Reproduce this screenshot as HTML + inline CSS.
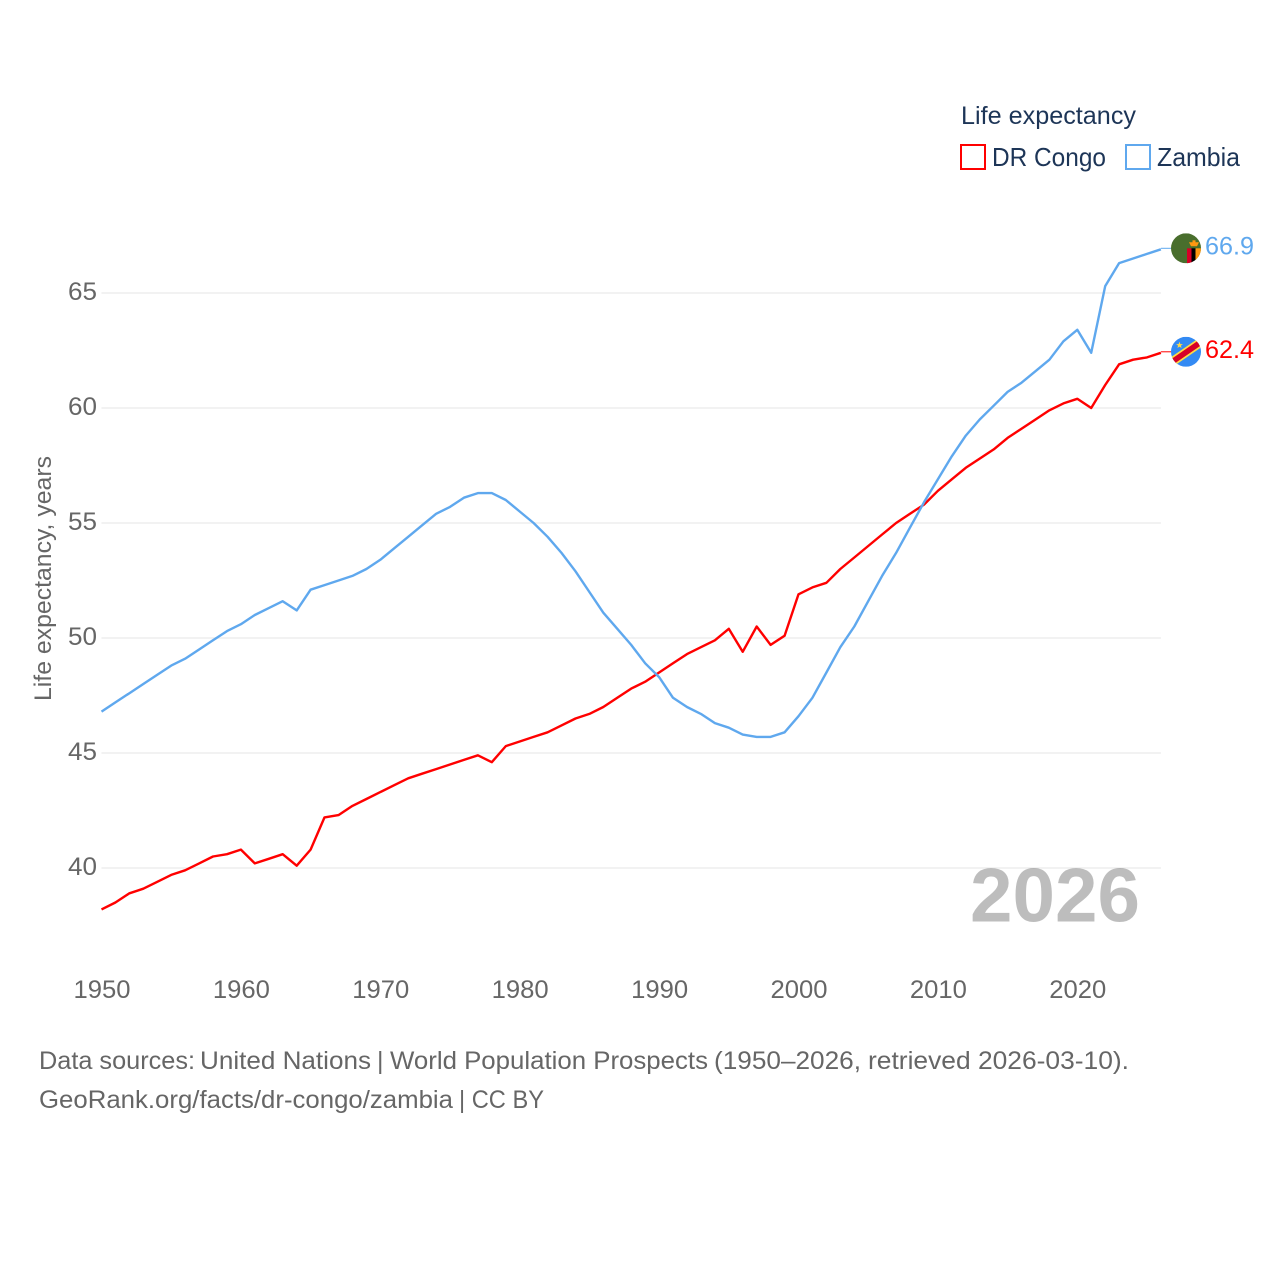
<!DOCTYPE html>
<html lang="en">
<head>
<meta charset="utf-8">
<title>Life expectancy: DR Congo and Zambia</title>
<style>
html,body{margin:0;padding:0;background:#fff;width:1280px;height:1280px;overflow:hidden}
svg{display:block}
text{font-family:"Liberation Sans",sans-serif}
</style>
</head>
<body>
<svg id="chart" width="1280" height="1280" viewBox="0 0 1280 1280" xmlns="http://www.w3.org/2000/svg">
  <defs>
    <clipPath id="clip-zm"><circle id="clip-zm-c" cx="1186" cy="248" r="15"/></clipPath>
    <clipPath id="clip-cd"><circle id="clip-cd-c" cx="1186" cy="352" r="15"/></clipPath>
  </defs>
  <rect width="1280" height="1280" fill="#fff"/>
  <g id="grid"></g>
  <g id="yticks"></g>
  <g id="xticks"></g>
  <text transform="translate(51,701) rotate(-90)" font-size="24" fill="#666" textLength="245" lengthAdjust="spacingAndGlyphs">Life expectancy, years</text>
  <text x="970" y="921.5" font-size="76" font-weight="bold" fill="#000" fill-opacity="0.26" textLength="170" lengthAdjust="spacingAndGlyphs">2026</text>
  <g id="series"></g>
  <g id="flag-zambia" clip-path="url(#clip-zm)"></g>
  <g id="flag-congo" clip-path="url(#clip-cd)"></g>
  <g>
    <text x="961" y="124" font-size="25" fill="#1d3557" textLength="175" lengthAdjust="spacingAndGlyphs">Life expectancy</text>
    <rect x="961" y="145" width="24" height="24" fill="none" stroke="#ff0000" stroke-width="2"/>
    <text x="992" y="166" font-size="26" fill="#1d3557" textLength="114" lengthAdjust="spacingAndGlyphs">DR Congo</text>
    <rect x="1126" y="145" width="24" height="24" fill="none" stroke="#5fa8ee" stroke-width="2"/>
    <text x="1157" y="166" font-size="26" fill="#1d3557" textLength="83" lengthAdjust="spacingAndGlyphs">Zambia</text>
  </g>
  <g font-size="25" fill="#666">
    <g>
      <text x="39" y="1069" textLength="156" lengthAdjust="spacingAndGlyphs">Data sources:</text>
      <text x="200" y="1069" textLength="171" lengthAdjust="spacingAndGlyphs">United Nations</text>
      <text x="377" y="1069">|</text>
      <text x="390" y="1069" textLength="318" lengthAdjust="spacingAndGlyphs">World Population Prospects</text>
      <text x="714" y="1069" textLength="147" lengthAdjust="spacingAndGlyphs">(1950–2026,</text>
      <text x="868" y="1069" textLength="261" lengthAdjust="spacingAndGlyphs">retrieved 2026-03-10).</text>
    </g>
    <text x="39" y="1108" textLength="414" lengthAdjust="spacingAndGlyphs">GeoRank.org/facts/dr-congo/zambia</text>
    <text x="459" y="1108" textLength="85" lengthAdjust="spacingAndGlyphs">| CC BY</text>
  </g>
</svg>
<script>
const startYear = 1950;
const congoValues = [38.2,38.5,38.9,39.1,39.4,39.7,39.9,40.2,40.5,40.6,40.8,40.2,40.4,40.6,40.1,40.8,42.2,42.3,42.7,43.0,43.3,43.6,43.9,44.1,44.3,44.5,44.7,44.9,44.6,45.3,45.5,45.7,45.9,46.2,46.5,46.7,47.0,47.4,47.8,48.1,48.5,48.9,49.3,49.6,49.9,50.4,49.4,50.5,49.7,50.1,51.9,52.2,52.4,53.0,53.5,54.0,54.5,55.0,55.4,55.8,56.4,56.9,57.4,57.8,58.2,58.7,59.1,59.5,59.9,60.2,60.4,60.0,61.0,61.9,62.1,62.2,62.4];
const zambiaValues = [46.8,47.2,47.6,48.0,48.4,48.8,49.1,49.5,49.9,50.3,50.6,51.0,51.3,51.6,51.2,52.1,52.3,52.5,52.7,53.0,53.4,53.9,54.4,54.9,55.4,55.7,56.1,56.3,56.3,56.0,55.5,55.0,54.4,53.7,52.9,52.0,51.1,50.4,49.7,48.9,48.3,47.4,47.0,46.7,46.3,46.1,45.8,45.7,45.7,45.9,46.6,47.4,48.5,49.6,50.5,51.6,52.7,53.7,54.8,55.9,56.9,57.9,58.8,59.5,60.1,60.7,61.1,61.6,62.1,62.9,63.4,62.4,65.3,66.3,66.5,66.7,66.9];
const yTicks = [40,45,50,55,60,65];
const xTicks = [1950,1960,1970,1980,1990,2000,2010,2020];

const NS = 'http://www.w3.org/2000/svg';
const xScale = function (year) { return 101.5 + (year - 1950) * 13.94; };
const yScale = function (v) { return 868 - (v - 40) * 23; };
const lastYear = startYear + congoValues.length - 1;

function make(tag, attrs, parent, txt) {
  const el = document.createElementNS(NS, tag);
  for (const k in attrs) el.setAttribute(k, attrs[k]);
  if (txt !== undefined) el.textContent = txt;
  parent.appendChild(el);
  return el;
}

const gridG = document.getElementById('grid');
const yG = document.getElementById('yticks');
yTicks.forEach(function (t) {
  const line = make('line', {x1: xScale(startYear), x2: xScale(lastYear), y1: yScale(t), y2: yScale(t), stroke: '#eeeeee', 'stroke-width': 1.5}, gridG);
  
  
  const label = make('text', {x: 68, y: yScale(t) + 7, 'font-size': 25, fill: '#666', textLength: 29, lengthAdjust: 'spacingAndGlyphs'}, yG, String(t));
  
  
});

const xG = document.getElementById('xticks');
xTicks.forEach(function (t) {
  const label = make('text', {x: xScale(t) + 0.5, y: 998, 'text-anchor': 'middle', 'font-size': 25, fill: '#666', textLength: 57, lengthAdjust: 'spacingAndGlyphs'}, xG, String(t));
  
  
});

const seriesG = document.getElementById('series');
function drawSeries(values, color, key) {
  const d = values.map(function (v, i) {
    return (i ? 'L' : 'M') + xScale(startYear + i).toFixed(1) + ' ' + yScale(v).toFixed(1);
  }).join(' ');
  const path = make('path', {d: d, fill: 'none', stroke: color, 'stroke-width': 2.4, 'stroke-linejoin': 'round'}, seriesG);
  
  
  const last = values[values.length - 1];
  const ly = yScale(last) - 1;
  const conn = make('line', {x1: xScale(lastYear), x2: 1171, y1: ly, y2: ly, stroke: color, 'stroke-width': 1}, seriesG);
  
  
  const lab = make('text', {x: 1205, y: ly + 6, 'font-size': 25, fill: color, textLength: 49, lengthAdjust: 'spacingAndGlyphs'}, seriesG, last.toFixed(1));
  
  
}
drawSeries(congoValues, '#ff0000', 'dr-congo');
drawSeries(zambiaValues, '#5fa8ee', 'zambia');

const zy = yScale(zambiaValues[zambiaValues.length - 1]) - 1;
const cy = yScale(congoValues[congoValues.length - 1]) - 1;
document.getElementById('clip-zm-c').setAttribute('cy', zy);
document.getElementById('clip-cd-c').setAttribute('cy', cy);

const zf = document.getElementById('flag-zambia');
make('rect', {x: 1171, y: zy - 15, width: 30, height: 30, fill: '#496e2d'}, zf);
make('rect', {x: 1187, y: zy, width: 4.5, height: 16, fill: '#d80027'}, zf);
make('rect', {x: 1191.5, y: zy, width: 4, height: 16, fill: '#000'}, zf);
make('rect', {x: 1195.5, y: zy, width: 6, height: 16, fill: '#ff9811'}, zf);
make('path', {d: 'M1189 ' + (zy - 6) + 'h10l-2 4h-6z', fill: '#ff9811'}, zf);
make('rect', {x: 1192.5, y: zy - 8, width: 3, height: 3, fill: '#ff9811'}, zf);

const cf = document.getElementById('flag-congo');
make('rect', {x: 1171, y: cy - 15, width: 30, height: 30, fill: '#338af3'}, cf);
make('path', {d: 'M1170 ' + (cy + 11.5) + 'L1202 ' + (cy - 10.5), stroke: '#ffda44', 'stroke-width': 9, fill: 'none'}, cf);
make('path', {d: 'M1170 ' + (cy + 11.5) + 'L1202 ' + (cy - 10.5), stroke: '#d80027', 'stroke-width': 5.5, fill: 'none'}, cf);
make('path', {d: 'M1179.5 ' + (cy - 10) + 'l.9 2.3h2.5l-2 1.5.7 2.4-2.1-1.4-2.1 1.4.7-2.4-2-1.5h2.5z', fill: '#ffda44'}, cf);
</script>
</body>
</html>
